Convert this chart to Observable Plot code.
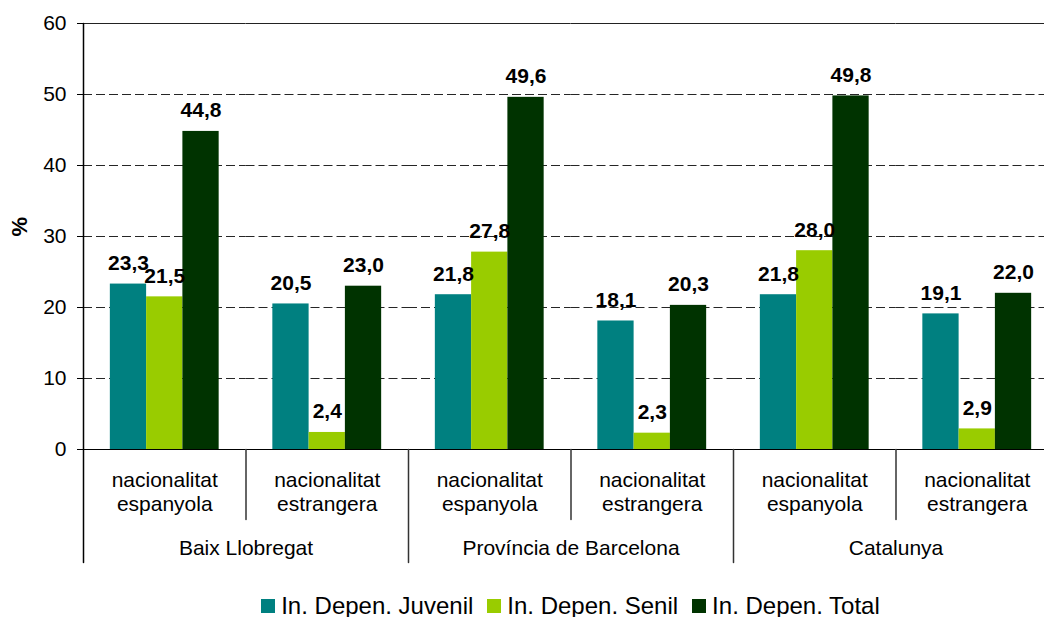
<!DOCTYPE html>
<html>
<head>
<meta charset="utf-8">
<script src="https://cdn.jsdelivr.net/npm/d3@7"></script>
<script src="https://cdn.jsdelivr.net/npm/@observablehq/plot@0.6"></script>
<style>
  html, body { margin: 0; padding: 0; overflow: hidden; background: #fff; }
  #wrap { width: 1058px; font-family: "Liberation Sans", Arial, sans-serif; }
  #legend { display: flex; justify-content: center; align-items: center; margin-top: 23px; padding-left: 83px; height: 28px; font-size: 24px; color: #000; }
  .item { display: flex; align-items: center; margin: 0 7px; }
  .sw { width: 14px; height: 14px; margin-right: 6px; }
</style>
</head>
<body>
<div id="wrap"><div id="chart"></div><div id="legend"></div></div>
<script>
// ---- data ----
const regions = ["Baix Llobregat", "Província de Barcelona", "Catalunya"];
const nationalities = ["nacionalitat\nespanyola", "nacionalitat\nestrangera"];
const series = ["In. Depen. Juvenil", "In. Depen. Senil", "In. Depen. Total"];
const colors = ["#008080", "#99CC00", "#003300"];
// order: Baix esp, Baix estr, Prov esp, Prov estr, Cat esp, Cat estr
const juvenil = [23.3, 20.5, 21.8, 18.1, 21.8, 19.1];
const senil   = [21.5, 2.4, 27.8, 2.3, 28.0, 2.9];
const total   = [44.8, 23.0, 49.6, 20.3, 49.8, 22.0];
const yTicks = [0, 10, 20, 30, 40, 50, 60];

// ---- derived tables ----
const subcats = [];
regions.forEach((r, ri) => nationalities.forEach((n, ni) => {
  subcats.push({key: r + "|" + n, region: r, nat: n, first: ni === 0, ri, i: subcats.length});
}));
const keys = subcats.map(d => d.key);
const seriesValues = [juvenil, senil, total];
const data = [];
subcats.forEach((s, i) => series.forEach((name, si) => {
  data.push({key: s.key, series: name, value: seriesValues[si][i]});
}));
const fmt = v => v.toFixed(1).replace(".", ",");
const line = {draw(ctx, l) { ctx.moveTo(0, 0); ctx.lineTo(0, -l); }};

const chart = Plot.plot({
  width: 1058,
  height: 569,
  marginLeft: 83,
  marginRight: 0,
  marginTop: 23,
  marginBottom: 120,
  style: {fontFamily: "Liberation Sans, Arial, sans-serif", fontSize: "21px", color: "#000", maxWidth: "none", background: "#fff"},
  fx: {domain: keys, paddingInner: 0, paddingOuter: 0, round: false, axis: null, label: null},
  x: {domain: series, paddingInner: 0, paddingOuter: 0.74, round: false, axis: null, label: null},
  y: {domain: [0, 60], axis: null},
  color: {domain: series, range: colors},
  marks: [
    Plot.ruleY(yTicks.filter(v => v > 0 && v < 60), {stroke: "#000", strokeOpacity: 0.85, strokeDasharray: "9,4"}),
    Plot.ruleY([60], {stroke: "#222"}),
    Plot.barY(data, {fx: "key", x: "series", y: "value", fill: "series"}),
    Plot.ruleY([0], {stroke: "#000"}),
    Plot.axisY(yTicks, {anchor: "left", tickSize: 6, tickPadding: 11, fontSize: 21, label: null}),
    Plot.text(data, {fx: "key", x: "series", y: "value", text: d => fmt(d.value), lineAnchor: "bottom", dy: -14, fontWeight: "bold", fontSize: 21, fill: "#000"}),
    // left axis line
    Plot.vector(subcats.filter(d => d.i === 0), {fx: "key", frameAnchor: "top-left", anchor: "start", rotate: 180, length: 539, shape: line, stroke: "#000"}),
    // region separators
    Plot.vector(subcats.filter(d => d.first && d.i > 0), {fx: "key", frameAnchor: "bottom-left", anchor: "start", rotate: 180, length: 113, shape: line, stroke: "#333"}),
    // nationality separators
    Plot.vector(subcats.filter(d => !d.first), {fx: "key", frameAnchor: "bottom-left", anchor: "start", rotate: 180, length: 70, shape: line, stroke: "#333"}),
    // nationality labels
    Plot.text(subcats, {fx: "key", text: "nat", frameAnchor: "bottom", lineAnchor: "top", dy: 20, lineHeight: 1.15, fontSize: 21, fill: "#000"}),
    // region labels (centered on the boundary between the two nationality bands)
    Plot.text(subcats.filter(d => d.first), {fx: "key", text: "region", frameAnchor: "bottom-right", textAnchor: "middle", lineAnchor: "bottom", dy: 105, fontSize: 21, fill: "#000"}),
    // y label
    Plot.text([{key: keys[0], t: "%"}], {fx: "key", text: "t", frameAnchor: "left", dx: -64, rotate: -90, fontWeight: "bold", fontSize: 22, fill: "#000"})
  ]
});
document.getElementById("chart").appendChild(chart);

const legend = document.getElementById("legend");
series.forEach((s, i) => {
  const item = document.createElement("div");
  item.className = "item";
  const sw = document.createElement("div");
  sw.className = "sw";
  sw.style.background = colors[i];
  const t = document.createElement("span");
  t.textContent = s;
  item.appendChild(sw);
  item.appendChild(t);
  legend.appendChild(item);
});
</script>
</body>
</html>
